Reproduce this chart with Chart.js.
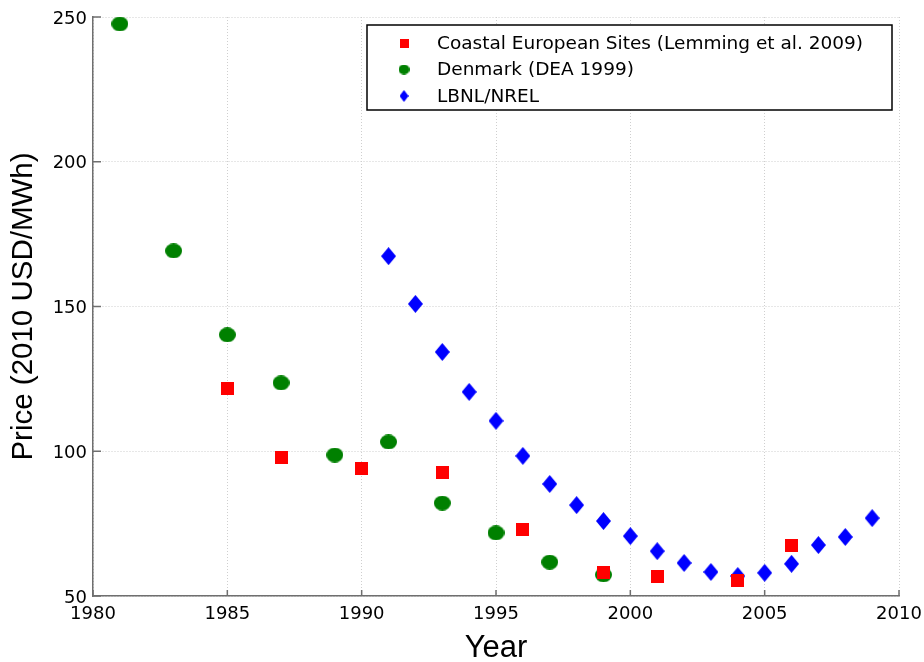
<!DOCTYPE html>
<html>
<head>
<meta charset="utf-8">
<script src="https://cdn.jsdelivr.net/npm/chart.js@4.4.0/dist/chart.umd.min.js"></script>
<style>
  html, body { margin: 0; padding: 0; background: #fff; }
  #wrap { width: 924px; height: 662px; }
</style>
</head>
<body>
<div id="wrap"><canvas id="chart" width="924" height="662"></canvas></div>
<script>
// data
const coastalYears = [1985, 1987, 1990, 1993, 1996, 1999, 2001, 2004, 2006];
const coastalPrice = [121.8, 97.7, 93.9, 92.5, 72.8, 58.0, 56.6, 55.5, 67.3];

const denmarkYears = [1981, 1983, 1985, 1987, 1989, 1991, 1993, 1995, 1997, 1999];
const denmarkPrice = [247.6, 169.2, 140.2, 123.6, 98.7, 103.2, 82.1, 71.8, 61.7, 57.3];

const lbnlYears = [1991, 1992, 1993, 1994, 1995, 1996, 1997, 1998, 1999, 2000,
  2001, 2002, 2003, 2004, 2005, 2006, 2007, 2008, 2009];
const lbnlPrice = [167.4, 150.9, 134.3, 120.5, 110.5, 98.4, 88.7, 81.4, 75.9, 70.7,
  65.5, 61.4, 58.3, 56.9, 58.0, 61.1, 67.6, 70.4, 76.9];

const seriesLabels = [
  "Coastal European Sites (Lemming et al. 2009)",
  "Denmark (DEA 1999)",
  "LBNL/NREL",
];
const xTicks = [1980, 1985, 1990, 1995, 2000, 2005, 2010];
const yTicks = [50, 100, 150, 200, 250];

const FONT = "'Liberation Sans', Arial, Helvetica, sans-serif";
const WIDE = "'DejaVu Sans', 'Liberation Sans', sans-serif";
const AXIS_GREY = "#6f6f6f";

// marker images
function marker(kind, w, h, color) {
  const c = document.createElement("canvas");
  c.width = w;
  c.height = h;
  const g = c.getContext("2d");
  g.fillStyle = color;
  g.beginPath();
  if (kind === "square") {
    g.rect(0, 0, w, h);
  } else if (kind === "ellipse") {
    g.ellipse(w / 2, h / 2, w / 2, h / 2, 0, 0, Math.PI * 2);
  } else {
    g.moveTo(w / 2, 0);
    g.lineTo(w, h / 2);
    g.lineTo(w / 2, h);
    g.lineTo(0, h / 2);
    g.closePath();
  }
  g.fill();
  return c;
}

const squareMark = marker("square", 13, 13, "#ff0000");
const circleMark = marker("ellipse", 17, 15, "#008000");
const diamondMark = marker("diamond", 15, 18, "#0000ff");
const legendMarks = [
  marker("square", 9, 9, "#ff0000"),
  marker("ellipse", 11, 10, "#008000"),
  marker("diamond", 9, 12, "#0000ff"),
];

const toPoints = (xs, ys) => xs.map((x, i) => ({ x: x, y: ys[i] }));

// inward ticks + boxed legend
const extras = {
  id: "extras",
  afterDatasetsDraw(chart) {
    const ctx = chart.ctx;
    const area = chart.chartArea;
    const xs = chart.scales.x;
    const ys = chart.scales.y;
    ctx.save();
    ctx.strokeStyle = AXIS_GREY;
    ctx.lineWidth = 1.5;
    ctx.beginPath();
    xTicks.forEach((v) => {
      const px = xs.getPixelForValue(v);
      ctx.moveTo(px, area.bottom);
      ctx.lineTo(px, area.bottom - 6);
    });
    yTicks.forEach((v) => {
      const py = ys.getPixelForValue(v);
      ctx.moveTo(area.left, py);
      ctx.lineTo(area.left + 8, py);
    });
    ctx.stroke();

    // legend
    const box = { x: 367, y: 25, w: 525, h: 85 };
    ctx.fillStyle = "#fff";
    ctx.fillRect(box.x, box.y, box.w, box.h);
    ctx.strokeStyle = "#000";
    ctx.lineWidth = 1.5;
    ctx.strokeRect(box.x, box.y, box.w, box.h);
    ctx.font = "18.5px " + WIDE;
    ctx.fillStyle = "#000";
    ctx.textBaseline = "middle";
    seriesLabels.forEach((t, i) => {
      const cy = box.y + 18 + i * 26.5;
      const m = legendMarks[i];
      ctx.drawImage(m, 404 - m.width / 2, cy - m.height / 2);
      ctx.fillText(t, 437, cy + 1);
    });
    ctx.restore();
  },
};

new Chart(document.getElementById("chart"), {
  type: "scatter",
  data: {
    datasets: [
      {
        label: seriesLabels[0],
        data: toPoints(coastalYears, coastalPrice),
        pointStyle: squareMark,
        backgroundColor: "#ff0000",
      },
      {
        label: seriesLabels[1],
        data: toPoints(denmarkYears, denmarkPrice),
        pointStyle: circleMark,
        backgroundColor: "#008000",
      },
      {
        label: seriesLabels[2],
        data: toPoints(lbnlYears, lbnlPrice),
        pointStyle: diamondMark,
        backgroundColor: "#0000ff",
      },
    ],
  },
  options: {
    responsive: false,
    animation: false,
    layout: { padding: { top: 17, right: 25, left: 0, bottom: 0 } },
    plugins: {
      legend: { display: false },
      tooltip: { enabled: false },
    },
    scales: {
      x: {
        type: "linear",
        min: 1980,
        max: 2010,
        afterFit: (s) => {
          s.height = 66;
          s.paddingLeft = 0;
          s.paddingRight = 0;
        },
        afterBuildTicks: (s) => { s.ticks = xTicks.map((v) => ({ value: v })); },
        ticks: {
          color: "#000",
          font: { family: WIDE, size: 18 },
          padding: 8,
          maxRotation: 0,
          callback: (v) => String(v),
        },
        grid: { color: "#cfcfcf", lineWidth: 1, drawTicks: false, tickLength: 0 },
        border: { color: AXIS_GREY, width: 1.5, dash: [1, 2] },
        title: {
          display: true,
          text: "Year",
          color: "#000",
          font: { family: FONT, size: 31, lineHeight: 0.9 },
          padding: { top: 0, bottom: 0 },
        },
      },
      y: {
        min: 50,
        max: 250,
        afterFit: (s) => {
          s.width = 93;
          s.paddingTop = 0;
          s.paddingBottom = 0;
        },
        afterBuildTicks: (s) => { s.ticks = yTicks.map((v) => ({ value: v })); },
        ticks: {
          color: "#000",
          font: { family: WIDE, size: 18 },
          padding: 6,
          labelOffset: 2,
          callback: (v) => String(v),
        },
        grid: { color: "#cfcfcf", lineWidth: 1, drawTicks: false, tickLength: 0 },
        border: { color: AXIS_GREY, width: 1.5, dash: [1, 2] },
        title: {
          display: true,
          text: "Price (2010 USD/MWh)",
          color: "#000",
          font: { family: FONT, size: 29.5 },
          padding: { top: 6, bottom: 0 },
        },
      },
    },
  },
  plugins: [extras],
});
</script>
</body>
</html>
